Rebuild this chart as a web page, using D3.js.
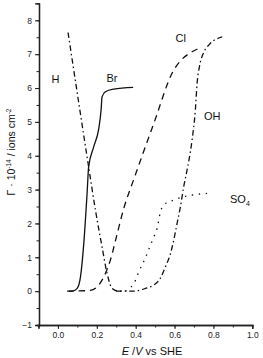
<!DOCTYPE html>
<html>
<head>
<meta charset="utf-8">
<script src="https://cdn.jsdelivr.net/npm/d3@7"></script>
<style>
  body { margin: 0; background: #fff; }
  svg { display: block; font-family: "Liberation Sans", Arial, sans-serif; }
</style>
</head>
<body>
<svg id="chart" width="263" height="358"></svg>
<script>
// adsorption data: [E / V, Gamma * 1e-14]
const hData = [[0.052, 7.64], [0.158, 3.67], [0.193, 2.39], [0.227, 1.31], [0.253, 0.52], [0.279, 0.08], [0.311, 0.0], [0.33, 0.0]];
const brData = [[0.056, 0.0], [0.08, 0.01], [0.099, 0.08], [0.116, 0.42], [0.133, 1.41], [0.15, 2.89], [0.158, 3.67], [0.184, 4.26], [0.21, 4.8], [0.222, 5.35], [0.227, 5.74], [0.244, 5.89], [0.287, 5.97], [0.387, 6.02]];
const clData = [[0.047, 0.0], [0.167, 0.02], [0.21, 0.18], [0.244, 0.52], [0.27, 0.92], [0.305, 1.7], [0.339, 2.45], [0.39, 3.3], [0.493, 4.95], [0.593, 6.5], [0.63, 6.8], [0.69, 7.07], [0.724, 7.17]];
const ohData = [[0.3, 0.0], [0.39, 0.0], [0.45, 0.08], [0.493, 0.18], [0.527, 0.38], [0.553, 0.72], [0.579, 1.11], [0.596, 1.51], [0.613, 2.0], [0.63, 2.49], [0.647, 3.08], [0.661, 3.48], [0.69, 4.46], [0.707, 5.35], [0.716, 6.14], [0.728, 6.63], [0.75, 7.05], [0.776, 7.27], [0.845, 7.51]];
const so4Data = [[0.347, 0.0], [0.399, 0.32], [0.416, 0.57], [0.441, 0.87], [0.459, 1.11], [0.476, 1.36], [0.493, 1.6], [0.51, 1.85], [0.519, 2.1], [0.527, 2.34], [0.553, 2.59], [0.596, 2.69], [0.647, 2.79], [0.69, 2.84], [0.733, 2.87], [0.776, 2.89]];

const xTicks = [0.0, 0.2, 0.4, 0.6, 0.8, 1.0];
const yTicks = [-1, 0, 1, 2, 3, 4, 5, 6, 7, 8];

const svg = d3.select('#chart');

const x = d3.scaleLinear().domain([-0.1, 1.0]).range([38.5, 252.3]);
const y = d3.scaleLinear().domain([-1, 8.5]).range([325, 3.4]);

// axes
const xAxis = svg.append('g').attr('transform', 'translate(0,325)');
xAxis.call(d3.axisBottom(x).tickValues(d3.range(-0.1, 1.001, 0.1)).tickSize(2.5).tickFormat(''));
xAxis.call(g => g.append('g').call(d3.axisBottom(x).tickValues(xTicks).tickSize(4).tickFormat(d3.format('.1f'))));
const yAxis = svg.append('g').attr('transform', 'translate(39,0)');
yAxis.call(d3.axisLeft(y).tickValues(d3.range(-1, 8.01, 0.5)).tickSize(2.5).tickFormat(''));
yAxis.call(g => g.append('g').call(d3.axisLeft(y).tickValues(yTicks).tickSize(4).tickFormat(d3.format('d'))));
svg.selectAll('.domain').attr('stroke', '#222').attr('stroke-width', 1.3);
svg.selectAll('.tick line').attr('stroke', '#222').attr('stroke-width', 1);
svg.selectAll('.tick text').attr('fill', '#222').style('font-size', '8.5px');
yAxis.selectAll('.tick text').attr('x', -7);
xAxis.selectAll('.tick text').attr('y', 7);

// curves
const line = d3.line().x(d => x(d[0])).y(d => y(d[1])).curve(d3.curveMonotoneX);
const series = [
  { data: hData, dash: '5.5 3 1.5 3' },
  { data: ohData, dash: '5.5 3 1.5 3' },
  { data: brData, dash: null },
  { data: clData, dash: '6.5 5' },
  { data: so4Data, dash: '1.4 5.6' }
];
series.forEach(s => {
  svg.append('path')
    .attr('d', line(s.data))
    .attr('fill', 'none')
    .attr('stroke', '#111')
    .attr('stroke-width', 1.3)
    .attr('stroke-dasharray', s.dash);
});

// curve labels
const lab = (t, px, py) => svg.append('text').attr('x', px).attr('y', py)
  .style('font-size', '11px').attr('fill', '#111').text(t);
lab('H', 51.5, 82.5);
lab('Br', 106.5, 82);
lab('Cl', 175.5, 41.5);
lab('OH', 204, 119.5);
const so = lab('SO', 230, 203);
so.append('tspan').attr('dy', 2.5).style('font-size', '7px').text('4');

// axis titles
const xt = svg.append('text').attr('x', 152).attr('y', 355).attr('text-anchor', 'middle')
  .style('font-size', '11px').attr('fill', '#111');
xt.append('tspan').style('font-style', 'italic').text('E');
xt.append('tspan').text(' /');
xt.append('tspan').style('font-style', 'italic').text('V');
xt.append('tspan').text(' vs SHE');

const yt = svg.append('text').attr('transform', 'translate(15,152) rotate(-90)')
  .attr('text-anchor', 'middle').style('font-size', '10.5px').attr('fill', '#111');
yt.append('tspan').text('Γ · 10');
yt.append('tspan').attr('dy', -4).style('font-size', '6.5px').text('-14');
yt.append('tspan').attr('dy', 4).text(' / ions cm');
yt.append('tspan').attr('dy', -4).style('font-size', '6.5px').text('-2');
</script>
</body>
</html>
